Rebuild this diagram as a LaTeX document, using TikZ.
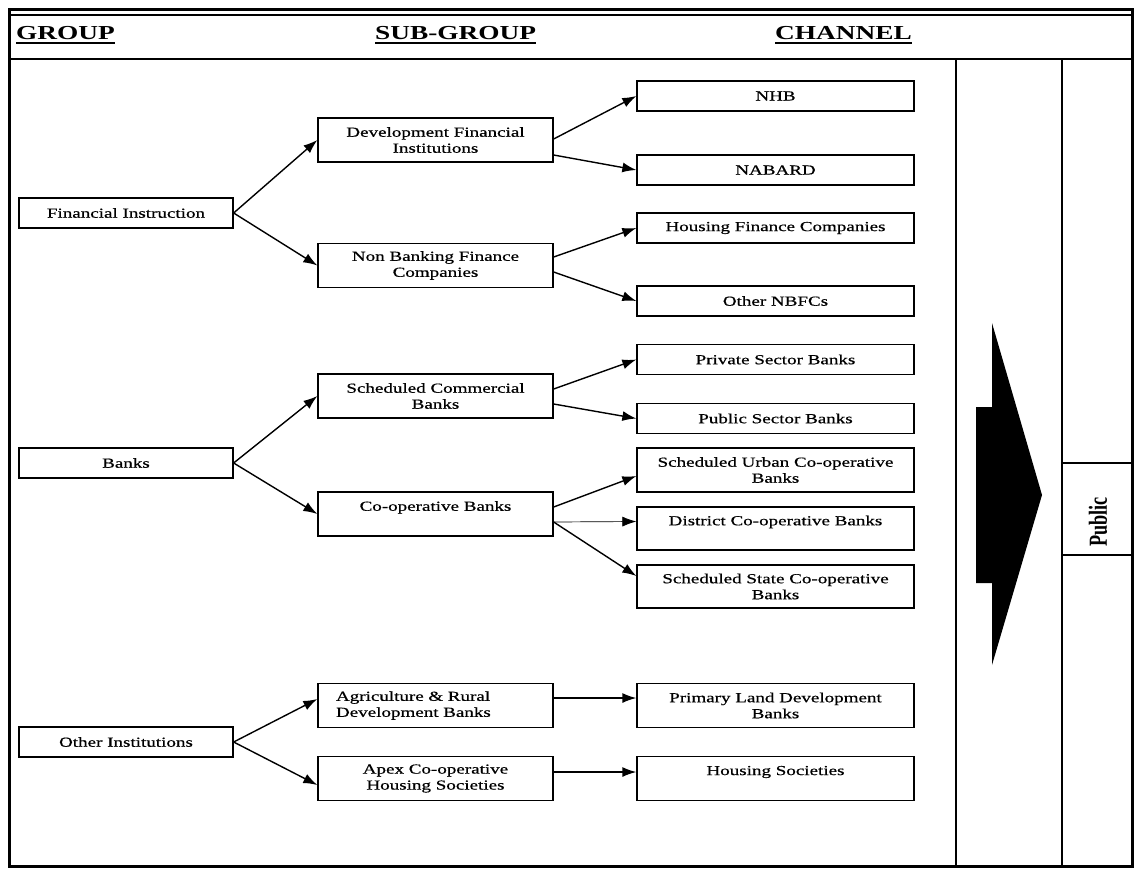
\documentclass[tikz,border=0pt]{standalone}
\usepackage{fontspec}
\setmainfont{Liberation Serif}[FakeStretch=1.38, UprightFeatures={FakeBold=0.6}]
\newfontfamily\pubfont{Liberation Serif}[FakeStretch=0.7]
\usetikzlibrary{arrows.meta}

\begin{document}
\begin{tikzpicture}[x=1pt, y=-1pt,
  every node/.style = {font=\fontsize{13.8}{16}\selectfont, align=center},
  grpbox/.style = {draw, line width=1.3pt, minimum width=214pt, minimum height=30pt, inner sep=2pt},
  subbox/.style = {draw, line width=1.3pt, minimum width=235pt, minimum height=44pt, inner sep=2pt},
  chanbox/.style = {draw, line width=1.3pt, minimum width=277pt, minimum height=30pt, inner sep=2pt},
  tallbox/.style = {chanbox, minimum height=44pt},
  toptext/.style = {text depth=16pt},
  hdr/.style = {anchor=base west, inner sep=0pt, font=\fontsize{19.8}{22}\selectfont\bfseries},
  hdrrule/.style = {line width=1.8pt},
  arr/.style = {line width=1.4pt, -{Latex[length=14pt, width=10pt]}},
  thinarr/.style = {line width=0.7pt, -{Latex[length=14pt, width=10pt]}}]
  \useasboundingbox (0,0) rectangle (1134,868);

  % frame and columns
  \draw[line width=3pt] (9,9) rectangle (1132,866);
  \draw[line width=1.2pt] (9,15) -- (1132,15);
  \draw[line width=1.4pt] (9,59) -- (1132,59);
  \draw[line width=1.8pt] (956,59) -- (956,866);
  \draw[line width=1.8pt] (1062,59) -- (1062,866);
  \draw[line width=1.3pt] (1062,463) -- (1132,463);
  \draw[line width=1.3pt] (1062,555) -- (1132,555);

  % headings
  \node[hdr] (grp) at (16,39.5) {GROUP};
  \node[hdr] (sub) at (375,39.5) {SUB-GROUP};
  \node[hdr] (chn) at (775,39.5) {CHANNEL};
  \draw[hdrrule] ([yshift=-3.5pt]grp.base west) -- ([yshift=-3.5pt]grp.base east);
  \draw[hdrrule] ([yshift=-3.5pt]sub.base west) -- ([yshift=-3.5pt]sub.base east);
  \draw[hdrrule] ([yshift=-3.5pt]chn.base west) -- ([yshift=-3.5pt]chn.base east);

  % groups
  \node[grpbox] (fi) at (126,213) {Financial Instruction};
  \node[grpbox] (banks) at (126,463) {Banks};
  \node[grpbox] (other) at (126,742) {Other Institutions};

  % sub-groups
  \node[subbox] (dfi) at (435.5,140) {Development Financial\\Institutions};
  \node[subbox] (nbfc) at (435.5,265.5) {Non Banking Finance\\Companies};
  \node[subbox] (scb) at (435.5,396) {Scheduled Commercial\\Banks};
  \node[subbox, toptext] (cob) at (435.5,514) {Co-operative Banks};
  \node[subbox, align=left, text width=199pt, inner xsep=18pt] (agri) at (435.5,705.5) {Agriculture \& Rural\\Development Banks};
  \node[subbox] (apex) at (435.5,778.5) {Apex Co-operative\\Housing Societies};

  % channels
  \node[chanbox] (nhb) at (775.5,96) {NHB};
  \node[chanbox] (nabard) at (775.5,170) {NABARD};
  \node[chanbox] (hfc) at (775.5,228) {Housing Finance Companies};
  \node[chanbox] (onbfc) at (775.5,301) {Other NBFCs};
  \node[chanbox] (priv) at (775.5,359.5) {Private Sector Banks};
  \node[chanbox] (pubsec) at (775.5,418.5) {Public Sector Banks};
  \node[tallbox] (sucb) at (775.5,470) {Scheduled Urban Co-operative\\Banks};
  \node[tallbox, toptext, minimum height=43pt] (dcb) at (775.5,528.5) {District Co-operative Banks};
  \node[tallbox, minimum height=43pt] (sscb) at (775.5,586.5) {Scheduled State Co-operative\\Banks};
  \node[tallbox] (pldb) at (775.5,705.5) {Primary Land Development\\Banks};
  \node[tallbox, toptext] (hs) at (775.5,778.5) {Housing Societies};

  % group -> sub-group
  \draw[arr] (fi.east) -- (dfi.west);
  \draw[arr] (fi.east) -- (nbfc.west);
  \draw[arr] (banks.east) -- (scb.west);
  \draw[arr] (banks.east) -- (cob.west);
  \draw[arr] (other.east) -- ([yshift=6.5pt]agri.west);
  \draw[arr] (other.east) -- ([yshift=-6.5pt]apex.west);

  % sub-group -> channel
  \draw[arr] ([yshift=1pt]dfi.east) -- (nhb.west);
  \draw[arr] ([yshift=-15pt]dfi.east) -- (nabard.west);
  \draw[arr] ([yshift=8.5pt]nbfc.east) -- (hfc.west);
  \draw[arr] ([yshift=-6.5pt]nbfc.east) -- (onbfc.west);
  \draw[arr] ([yshift=7pt]scb.east) -- (priv.west);
  \draw[arr] ([yshift=-8pt]scb.east) -- (pubsec.west);
  \draw[arr] ([yshift=7pt]cob.east) -- ([yshift=-6pt]sucb.west);
  \draw[thinarr] ([yshift=-8pt]cob.east) -- ([yshift=7pt]dcb.west);
  \draw[arr] ([yshift=-8pt]cob.east) -- ([yshift=10.5pt]sscb.west);
  \draw[arr] ([yshift=7.5pt]agri.east) -- ([yshift=7.5pt]pldb.west);
  \draw[arr] ([yshift=6.5pt]apex.east) -- ([yshift=6.5pt]hs.west);

  % big arrow and public
  \fill (992,323) -- (1042,495) -- (992,665) -- (992,583) -- (976,583) -- (976,407) -- (992,407) -- cycle;
  \node[rotate=90, font=\pubfont\fontsize{26}{28}\selectfont\bfseries] (pub) at (1098,522) {Public};
\end{tikzpicture}
\end{document}
